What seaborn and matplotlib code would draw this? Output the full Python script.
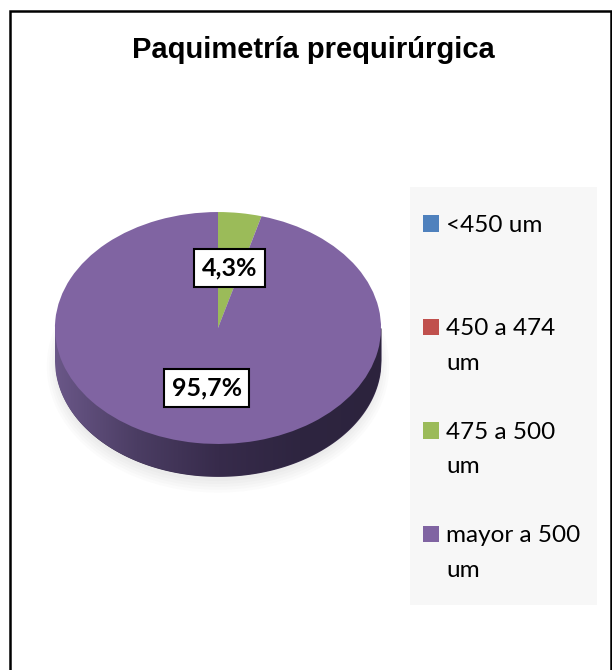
import numpy as np
import matplotlib.pyplot as plt
import seaborn as sns
from matplotlib.patches import Patch, Rectangle, Ellipse
from matplotlib.colors import LinearSegmentedColormap

# Data
categories = ["<450 um", "450 a 474\num", "475 a 500\num", "mayor a 500\num"]
percentages = [0.0, 0.0, 4.3, 95.7]
colors = ["#4F81BD", "#C0504D", "#9BBB59", "#8064A2"]
title = "Paquimetría prequirúrgica"

sns.set_theme(style="white")
plt.rcParams["font.family"] = ["Lato", "DejaVu Sans"]
plt.rcParams["text.color"] = "black"

W, H = 612, 670
fig = plt.figure(figsize=(W / 100, H / 100), dpi=100)
fig.patch.set_facecolor("white")

# outer frame (bottom edge runs off the picture)
fig.patches.append(Rectangle((10 / W, -0.05), 601 / W, (H - 11) / H + 0.05,
                             transform=fig.transFigure, fill=False,
                             edgecolor="black", linewidth=1.8, zorder=0))

# light grey legend background
fig.patches.append(Rectangle((410 / W, 1 - 605 / H), 187 / W, (605 - 187) / H,
                             transform=fig.transFigure, facecolor="#f7f7f7",
                             edgecolor="none", zorder=0))

fig.text(313 / W, 1 - 50 / H, title, ha="center", va="center", fontsize=21,
         fontweight="bold", color="black", family=["Liberation Sans", "DejaVu Sans"])

# pie axes
ax = fig.add_axes([38 / W, (H - 498) / H, 360 / W, 300 / H])

wedges, texts, autotexts = ax.pie(
    percentages,
    colors=colors,
    startangle=90,
    counterclock=False,
    autopct=lambda p: f"{p:.1f}%".replace(".", ",") if p > 0 else "",
    pctdistance=0.52,
    wedgeprops=dict(linewidth=0),
    textprops=dict(fontsize=18, fontweight="bold", color="black"),
)
for w in wedges:
    w.set_zorder(3)
for t in autotexts:
    t.set_zorder(5)
    if t.get_text():
        t.set_bbox(dict(boxstyle="square,pad=0.3", facecolor="white",
                        edgecolor="black", linewidth=1.5))

# 3D side of the disc
depth = 0.28
x = np.linspace(-1, 1, 500)
low = -np.sqrt(1 - x ** 2)
side = ax.fill_between(x, low - depth, 0, color="#3a2e4e", linewidth=0, zorder=2)
side_cmap = LinearSegmentedColormap.from_list(
    "side", ["#6a5788", "#4b3d63", "#372b4b", "#2e2540", "#2c233d"])
grad = np.linspace(0, 1, 256).reshape(1, -1)
im = ax.imshow(grad, extent=(-1, 1, -1 - depth, 0), aspect="auto",
               cmap=side_cmap, zorder=2.5)
im.set_clip_path(side.get_paths()[0], transform=ax.transData)

# soft shadow under the disc
for k in range(5):
    ax.add_patch(Ellipse((0, -depth - 0.05), 1.98 + 0.03 * k, 1.98 + 0.05 * k,
                         facecolor="#999999", edgecolor="none",
                         alpha=0.035, zorder=1))

ax.set_aspect("auto")
ax.set_xlim(-1.104, 1.104)
ax.set_ylim(-1.466, 1.121)
ax.axis("off")

# legend: every entry takes three rows, like the original
handles, labels = [], []
for cat, col in zip(categories, colors):
    lines = cat.split("\n")
    for i in range(3):
        labels.append(lines[i] if i < len(lines) else " ")
        if i == 0:
            handles.append(Patch(facecolor=col, edgecolor="none"))
        else:
            handles.append(Patch(facecolor="none", edgecolor="none"))
handles, labels = handles[:-1], labels[:-1]

fig.legend(handles, labels, loc="upper left",
           bbox_to_anchor=(423 / W, 1 - 215 / H), bbox_transform=fig.transFigure,
           frameon=False, borderpad=0, borderaxespad=0,
           handlelength=0.66, handleheight=0.66, handletextpad=0.3,
           labelspacing=0.555, fontsize=17.5, labelcolor="black")

fig.savefig("out.png", dpi=100)
